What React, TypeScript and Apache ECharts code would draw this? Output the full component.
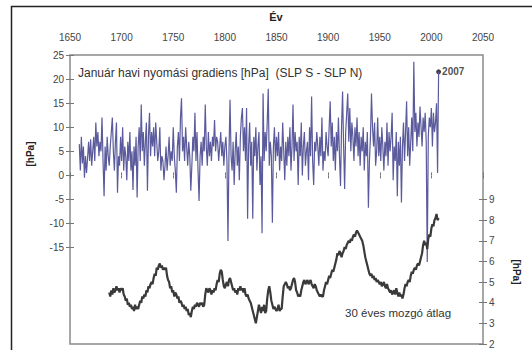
import React, { useEffect, useRef } from "react";
import * as echarts from "echarts";

// January pressure gradient [hPa] (SLP S - SLP N), one value per year starting 1659
const GRADIENT_START = 1659;
const gradient = [
  // 1659
  6.5,
  // 1660s
  1, 8, 2.5, 6, -0.5, 4, 0.5, 3.5, 7, 3,
  // 1670s
  7.5, 2, 5, 8, 3, 11, 6, 9, 4, 7,
  // 1680s
  5, 12, 3, -4.3, 6, 1, 8, 4, 2, 6,
  // 1690s
  9, 12, 5, 1, 7, 11, -3.6, 4, 2, 8,
  // 1700s
  3, 10, 1, 6, 4, -1, 7, 3, 9, 1,
  // 1710s
  5, -3, 6, 2, 8, -4.6, 6, 10, 3, 14.7,
  // 1720s
  5, 9, 2, 7, 11, -3.2, 8, 13, 4, 9,
  // 1730s
  6, 10, 4, 11, 7, 3, 5, 10, 1, 4,
  // 1740s
  3, -1, 2, 6, 1, 4, 8, 2, 5, 3,
  // 1750s
  10, 4, 1, -3.6, 6, 9, 3, 12, 16, 5,
  // 1760s
  8, 3, 10, 6, 2, 7, 4, -3.2, 2, 8,
  // 1770s
  5, 13, 3, 9, 1, -5.3, 4, 7, 2, 8,
  // 1780s
  5, 14.7, 6, 2, 9, 4, 7, 3, 8, 6,
  // 1790s
  11.5, 5, 8, 7, 3, 6, 9, 4, 7, 2,
  // 1800s
  6, 8, 3, -13.6, 5, 15.7, 4, 1, 7, -2,
  // 1810s
  5, 9, 2, 6, -1, 8, 12, 14, 5, 10,
  // 1820s
  3, 14, -9, 6, 11, 2, 7, -9, 8, 4,
  // 1830s
  10, 1, 6, 9, -2, 4, -12, 17, 3, 9,
  // 1840s
  5, 11, 18, 2, 7, 4, -9.8, 6, 10, 3,
  // 1850s
  8, 4, 9, 1, 6, 3, 11, 5, -1, 7,
  // 1860s
  2, 8, 4, 10, 1, 6, 14.7, 3, 9, 5,
  // 1870s
  7, -2, 8, 4, 11, 0, 6, 9, 2, 5,
  // 1880s
  7, -1, 10, 4, 16.4, 3, -2, 7, 5, 9,
  // 1890s
  6, 2, 8, 4, 12, 1, 5, 3, 9, 6,
  // 1900s
  4, 10, 15.4, 6, 11, 3, 8, 1, 9, 5,
  // 1910s
  12, 4, -2.2, 10, 17.4, 6, -2.8, 9, 13, 17,
  // 1920s
  7, 14, 5, 11, 8, 3, 10, 6, 12, 4,
  // 1930s
  9, 2, 8, 5, 10, 1, 7, 4, 9, -6.7,
  // 1940s
  3, 8, 17, 10, 6, 11, 2, 5, 12, 4,
  // 1950s
  8, 3, 10, 6, 1, 7, 4, 11, 2, 9,
  // 1960s
  5, 8, 13, -1, 6, 3, 9, -4.3, 7, 2,
  // 1970s
  8, -5.6, 6, 11, 3, 9, 15.4, 4, 10, 2,
  // 1980s
  7, 12, 5, 23.6, 9, 13, 6, 11, 8, 14.3,
  // 1990s
  10, 6, 12, 9, 13, 7, -18, 8, 12, 10,
  // 2000s
  14, 6, 13, 9, 11, 15, 0.5, 21.5,
];

// 30-year moving average [hPa], starting 1688
const MA_START = 1688;
const movingAvg = [
  // 1688-1689
  4.5, 4.3,
  // 1690s
  4.6, 4.4, 4.7, 4.5, 4.6, 4.8, 4.6, 4.7, 4.5, 4.7,
  // 1700s
  4.6, 4.7, 4.4, 4.3, 4.1, 4.2, 3.9, 4.0, 3.8, 3.9,
  // 1710s
  3.7, 3.8, 3.6, 3.9, 3.7, 3.8, 3.7, 3.9, 4.1, 4.0,
  // 1720s
  4.3, 4.2, 4.4, 4.3, 4.6, 4.5, 4.8, 4.7, 4.9, 5.0,
  // 1730s
  4.9, 5.2, 5.4, 5.3, 5.7, 5.6, 5.8, 5.9, 5.7, 5.8,
  // 1740s
  5.6, 5.7, 5.6, 5.7, 5.3, 5.1, 5.0, 4.7, 4.8, 4.5,
  // 1750s
  4.6, 4.3, 4.5, 4.4, 4.2, 4.3, 4.0, 4.1, 4.0, 3.8,
  // 1760s
  3.9, 3.7, 3.8, 3.6, 3.7, 3.4, 3.5, 3.3, 3.6, 3.8,
  // 1770s
  3.7, 3.9, 3.8, 4.0, 3.9, 3.8, 4.0, 3.9, 4.0, 3.8,
  // 1780s
  3.9, 4.4, 4.7, 4.6, 4.5, 4.7, 4.6, 4.4, 4.6, 4.5,
  // 1790s
  4.7, 4.6, 4.9, 5.1, 5.0, 5.4, 5.6, 5.5, 5.1, 4.8,
  // 1800s
  4.7, 4.9, 5.0, 4.8, 5.1, 5.2, 5.0, 4.8, 4.6, 4.7,
  // 1810s
  4.5, 4.6, 4.4, 4.7, 4.6, 4.8, 4.6, 4.7, 4.5, 4.7,
  // 1820s
  4.4, 4.3, 4.4, 4.2, 4.1, 4.0, 3.8, 3.6, 3.4, 3.2,
  // 1830s
  3.0, 3.3, 3.6, 3.9, 3.7, 3.5, 3.8, 3.6, 3.9, 3.5,
  // 1840s
  3.6, 4.2, 4.6, 4.8, 4.5, 4.1, 3.9, 3.7, 3.8, 3.7,
  // 1850s
  3.6, 3.7, 3.9, 3.6, 3.7, 3.7, 4.3, 4.8, 4.9, 5.0,
  // 1860s
  4.9, 4.7, 4.8, 4.6, 4.7, 4.9, 5.1, 5.2, 5.0, 4.6,
  // 1870s
  4.5, 4.3, 4.4, 4.3, 4.6, 4.8, 5.0, 5.1, 4.9, 5.0,
  // 1880s
  5.1, 4.9, 5.0, 5.1, 4.9, 4.8, 4.7, 4.9, 4.8, 4.6,
  // 1890s
  4.5, 4.4, 4.3, 4.4, 4.3, 4.3, 4.6, 4.8, 5.0, 4.9,
  // 1900s
  5.1, 5.3, 5.2, 5.4, 5.6, 5.5, 5.7, 5.9, 6.1, 6.4,
  // 1910s
  6.3, 6.5, 6.4, 6.2, 6.4, 6.5, 6.7, 6.6, 6.8, 6.9,
  // 1920s
  7.0, 6.9, 7.1, 7.0, 7.2, 7.3, 7.2, 7.4, 7.5, 7.4,
  // 1930s
  7.3, 7.2, 7.1, 7.0, 6.8, 6.5, 6.2, 6.0, 5.8, 5.6,
  // 1940s
  5.4, 5.3, 5.4, 5.2, 5.3, 5.1, 5.2, 5.0, 5.1, 5.0,
  // 1950s
  4.9, 5.0, 4.8, 4.9, 5.0, 4.8, 4.7, 4.9, 4.7, 4.6,
  // 1960s
  4.5, 4.6, 4.4, 4.5, 4.6, 4.4, 4.7, 4.5, 4.3, 4.5,
  // 1970s
  4.3, 4.4, 4.2, 4.4, 4.7, 4.9, 4.8, 5.0, 5.1, 5.0,
  // 1980s
  5.3, 5.5, 5.4, 5.6, 5.7, 5.6, 5.8, 5.9, 5.8, 6.0,
  // 1990s
  6.2, 6.4, 6.8, 7.0, 6.8, 6.9, 6.6, 7.1, 7.3, 7.2,
  // 2000s
  7.6, 7.8, 7.7, 8.0, 8.1, 8.3, 8.0, 8.1,
];

const highlightYear = 2007;
const highlightValue = 21.5;

const X_MIN = 1650;
const X_MAX = 2050;
const X_STEP = 50;
const LEFT_MIN = -35;
const LEFT_MAX = 25;
const LEFT_LABEL_MIN = -15;
const RIGHT_MIN = 2;
const RIGHT_MAX = 16;
const RIGHT_LABEL_MAX = 9;

const FONT = 'Arial, "Liberation Sans", sans-serif';

export default function App() {
  const ref = useRef<HTMLDivElement>(null);
  useEffect(() => {
    if (!ref.current) return;
    const chart = echarts.init(ref.current, undefined, { renderer: "svg" });

    const gradData = gradient.map((v, i) => [GRADIENT_START + i, v]);
    const maData = movingAvg.map((v, i) => [MA_START + i, v]);

    const L = 70, R = 49, T = 55, B = 6;
    const plotH = 350 - T - B;
    const leftLabelH = (plotH * (LEFT_MAX - LEFT_LABEL_MIN)) / (LEFT_MAX - LEFT_MIN);
    const rightLabelTop = T + (plotH * (RIGHT_MAX - RIGHT_LABEL_MAX)) / (RIGHT_MAX - RIGHT_MIN);

    const labelStyle = { color: "#444", fontSize: 10, fontFamily: FONT };
    const tickStyle = { color: "#777", width: 1 };
    const hiddenX = (gridIndex: number) => ({
      type: "value", gridIndex, min: X_MIN, max: X_MAX, show: false,
    });

    chart.setOption({
      animation: false,
      grid: [
        { left: L, right: R, top: T, bottom: B, show: true, borderColor: "#8a8a8a", borderWidth: 1.5 },
        { left: L, right: R, top: T, bottom: B },
        { left: L, right: R, top: T, height: leftLabelH },
        { left: L, right: R, top: T, height: leftLabelH },
        { left: L, right: R, top: rightLabelTop, bottom: B },
        { left: L, right: R, top: rightLabelTop, bottom: B },
      ],
      xAxis: [
        {
          type: "value", gridIndex: 0, position: "top", min: X_MIN, max: X_MAX, interval: X_STEP,
          axisLine: { show: false }, splitLine: { show: false },
          axisTick: { show: true, length: 3, lineStyle: tickStyle },
          axisLabel: { ...labelStyle, margin: 13, formatter: (v: number) => String(v) },
        },
        {
          type: "value", gridIndex: 1, position: "top", min: X_MIN, max: X_MAX, interval: X_STEP,
          axisLine: { show: false }, splitLine: { show: false }, axisLabel: { show: false },
          axisTick: { show: true, inside: true, length: 3, lineStyle: tickStyle },
        },
        hiddenX(2), hiddenX(3), hiddenX(4), hiddenX(5),
      ],
      yAxis: [
        { type: "value", gridIndex: 0, min: LEFT_MIN, max: LEFT_MAX, show: false },
        { type: "value", gridIndex: 0, position: "right", min: RIGHT_MIN, max: RIGHT_MAX, show: false },
        { type: "value", gridIndex: 1, min: LEFT_MIN, max: LEFT_MAX, show: false },
        {
          type: "value", gridIndex: 2, position: "left", min: LEFT_LABEL_MIN, max: LEFT_MAX, interval: 5,
          axisLine: { show: false }, splitLine: { show: false },
          axisTick: { show: true, length: 4, lineStyle: tickStyle },
          axisLabel: { ...labelStyle, margin: 6 },
        },
        {
          type: "value", gridIndex: 3, position: "left", min: LEFT_LABEL_MIN, max: LEFT_MAX, interval: 5,
          axisLine: { show: false }, splitLine: { show: false }, axisLabel: { show: false },
          axisTick: { show: true, inside: true, length: 4, lineStyle: tickStyle },
        },
        {
          type: "value", gridIndex: 4, position: "right", min: RIGHT_MIN, max: RIGHT_LABEL_MAX, interval: 1,
          axisLine: { show: false }, splitLine: { show: false },
          axisTick: { show: true, length: 4, lineStyle: tickStyle },
          axisLabel: { ...labelStyle, margin: 6 },
        },
        {
          type: "value", gridIndex: 5, position: "right", min: RIGHT_MIN, max: RIGHT_LABEL_MAX, interval: 1,
          axisLine: { show: false }, splitLine: { show: false }, axisLabel: { show: false },
          axisTick: { show: true, inside: true, length: 4, lineStyle: tickStyle },
        },
      ],
      series: [
        {
          type: "line", xAxisIndex: 0, yAxisIndex: 0, data: gradData, showSymbol: false, symbol: "none",
          lineStyle: { color: "#5a5a9c", width: 1.2 },
        },
        {
          type: "line", xAxisIndex: 0, yAxisIndex: 1, data: maData, showSymbol: false, symbol: "none",
          lineStyle: { color: "#3a3a3a", width: 2.2 },
        },
        {
          type: "scatter", xAxisIndex: 0, yAxisIndex: 0, data: [[highlightYear, highlightValue]],
          symbol: "circle", symbolSize: 5, itemStyle: { color: "#111" },
          label: {
            show: true, position: "right", distance: 1, formatter: String(highlightYear),
            fontSize: 10, fontWeight: "bold", color: "#222", fontFamily: FONT,
          },
        },
      ],
      graphic: [
        {
          type: "polyline", silent: true,
          shape: { points: [[11.5, 360], [11.5, 6.5], [540, 6.5]] },
          style: { stroke: "#222", lineWidth: 1.5, fill: null },
        },
        {
          type: "text", x: 276, y: 17,
          style: { text: "Év", font: `bold 11px ${FONT}`, fill: "#222", align: "center", verticalAlign: "middle" },
        },
        {
          type: "text", x: 30, y: 154, rotation: Math.PI / 2,
          style: { text: "[hPa]", font: `bold 10px ${FONT}`, fill: "#222", align: "center", verticalAlign: "middle" },
        },
        {
          type: "text", x: 516, y: 272, rotation: -Math.PI / 2,
          style: { text: "[hPa]", font: `bold 10px ${FONT}`, fill: "#222", align: "center", verticalAlign: "middle" },
        },
        {
          type: "text", x: 78, y: 73,
          style: {
            text: "Január havi nyomási gradiens [hPa]  (SLP S - SLP N)",
            font: `12px ${FONT}`, fill: "#333", align: "left", verticalAlign: "middle",
          },
        },
        {
          type: "text", x: 345, y: 313,
          style: { text: "30 éves mozgó átlag", font: `11.5px ${FONT}`, fill: "#333", align: "left", verticalAlign: "middle" },
        },
      ],
    });
    return () => chart.dispose();
  }, []);
  return (
    <div
      ref={ref}
      style={{ position: "fixed", left: 0, top: 0, width: 532, height: 350, background: "#fff" }}
    />
  );
}
